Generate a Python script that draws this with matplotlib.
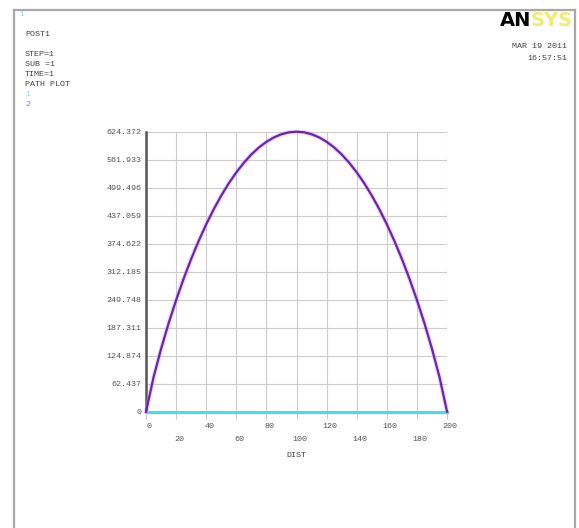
import matplotlib
matplotlib.use('Agg')
import matplotlib.pyplot as plt
import matplotlib.transforms as mtransforms
from matplotlib.lines import Line2D

# path plot data
dist = [0, 5, 10, 15, 20, 25, 30, 35, 40, 45, 50, 55, 60, 65, 70, 75, 80, 85, 90, 95, 100,
        105, 110, 115, 120, 125, 130, 135, 140, 145, 150, 155, 160, 165, 170, 175, 180, 185, 190, 195, 200]
curve2 = [0, 76.9, 140.1, 197.0, 248.9, 296.7, 340.6, 380.9, 417.8, 451.5, 482.0, 509.3, 533.7,
          555.1, 573.6, 589.2, 601.8, 611.7, 618.7, 623.0, 624.372,
          623.0, 618.7, 611.7, 601.8, 589.2, 573.6, 555.1, 533.7, 509.3, 482.0, 451.5, 417.8,
          380.9, 340.6, 296.7, 248.9, 197.0, 140.1, 76.9, 0]
curve1 = [0] * len(dist)

yticks = [0, 62.437, 124.874, 187.311, 249.748, 312.185, 374.622, 437.059, 499.496, 561.933, 624.372]
ylabels = ['0', '62.437', '124.874', '187.311', '249.748', '312.185', '374.622',
           '437.059', '499.496', '561.933', '624.372']
xticks = [0, 20, 40, 60, 80, 100, 120, 140, 160, 180, 200]
xlabels = ['0', '20', '40', '60', '80', '100', '120', '140', '160', '180', '200']

mono = 'Liberation Mono'
txtcol = '#555555'
fs = 6

fig = plt.figure(figsize=(5.79, 5.28), dpi=100)
fig.patch.set_facecolor('white')

# window frame
fc = '#a8a8a8'
fig.add_artist(Line2D([0.0242, 0.0242], [0, 0.981], color=fc, lw=1.6))
fig.add_artist(Line2D([0.0242, 0.993], [0.981, 0.981], color=fc, lw=1.6))
fig.add_artist(Line2D([0.993, 0.993], [0.981, 0], color=fc, lw=1.6))

ax = fig.add_axes([0.2522, 0.2203, 0.5199, 0.5303])
ax.set_xlim(0, 200)
ax.set_ylim(0, 624.372)

ax.grid(True, color='#cccccc', lw=0.8)
ax.set_axisbelow(True)
for s in ['top', 'right', 'bottom']:
    ax.spines[s].set_visible(False)
ax.spines['left'].set_color('#555555')
ax.spines['left'].set_linewidth(1.8)

ax.set_yticks(yticks)
ax.set_yticklabels(ylabels, fontfamily=mono, fontsize=fs, color=txtcol)
ax.tick_params(axis='y', length=0, pad=3)

ax.set_xticks(xticks)
ax.set_xticklabels([])
ax.tick_params(axis='x', length=5, color='#cccccc', width=0.8)
off = mtransforms.offset_copy(ax.get_xaxis_transform(), fig=fig, x=3, y=0, units='dots')
for i, (xt, lab) in enumerate(zip(xticks, xlabels)):
    yy = -0.054 if i % 2 == 0 else -0.101
    ax.text(xt, yy, lab, transform=off, ha='center', va='center',
            fontfamily=mono, fontsize=fs, color=txtcol)
ax.text(0.5, -0.155, 'DIST', transform=ax.transAxes, ha='center', va='center',
        fontfamily=mono, fontsize=fs, color='#444444')

# curves
ax.plot(dist, curve1, color='#40e0e8', lw=2.2, clip_on=False, zorder=3)
ax.plot(dist, curve2, color='#e080ff', lw=3.2, alpha=0.35, clip_on=False, zorder=4)
ax.plot(dist, curve2, color='#6428a8', lw=1.6, clip_on=False, zorder=5)

# header text
def px(x, y):
    return x / 579, 1 - y / 528

fig.text(*px(20, 15), '1', fontfamily=mono, fontsize=5, color='#7fd8e0', va='center')
for yy, t in [(34, 'POST1'), (54, 'STEP=1'), (64, 'SUB =1'), (74, 'TIME=1'), (84, 'PATH PLOT')]:
    fig.text(*px(25, yy), t, fontfamily=mono, fontsize=fs, color='#444444', va='center')
fig.text(*px(25, 94), '1', fontfamily=mono, fontsize=fs, color='#80dde6', va='center')
fig.text(*px(25, 104), '2', fontfamily=mono, fontsize=fs, color='#8080c8', va='center')

# logo and date
fig.text(*px(500, 20), 'AN', fontfamily='DejaVu Sans', fontweight='bold', fontsize=14,
         color='black', va='center', ha='left')
fig.text(*px(531, 20), 'SYS', fontfamily='DejaVu Sans', fontweight='bold', fontsize=14,
         color='#f0ec70', va='center', ha='left')
fig.text(*px(567, 47), 'MAR 19 2011', fontfamily=mono, fontsize=fs, color='#444444',
         va='center', ha='right')
fig.text(*px(567, 58), '16:57:51', fontfamily=mono, fontsize=fs, color='#444444',
         va='center', ha='right')

fig.savefig('out.png', dpi=100, facecolor='white')
